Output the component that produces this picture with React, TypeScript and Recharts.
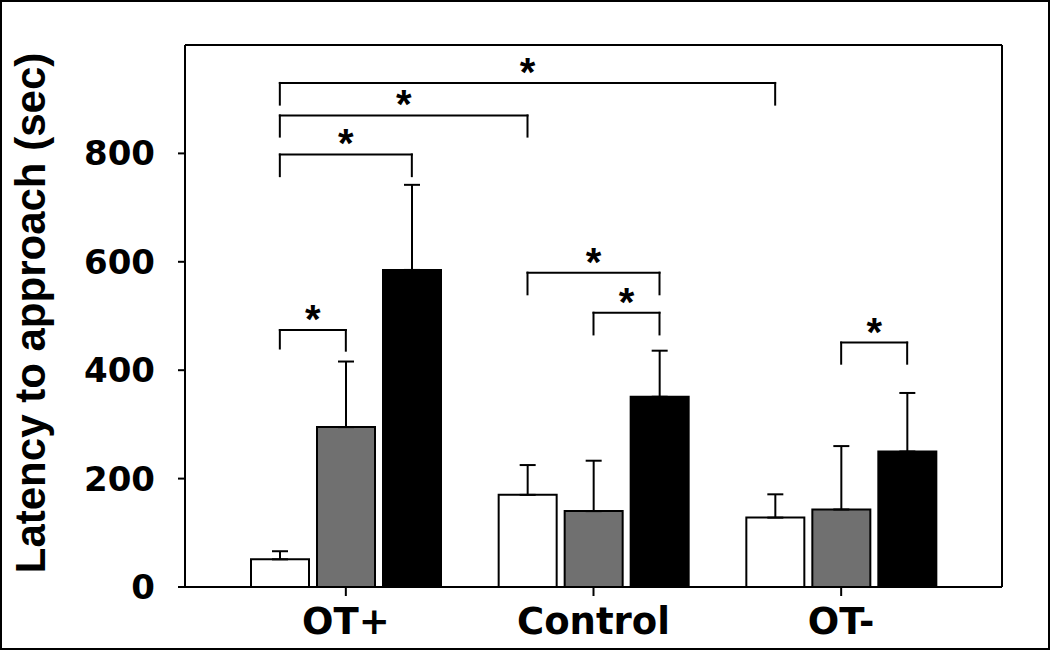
import React from "react";
import {
  ComposedChart,
  Bar,
  ErrorBar,
  XAxis,
  YAxis,
  ReferenceLine,
  ReferenceDot,
  Label,
} from "recharts";

// group means (sec) and one-sided SEM
const groups = ["OT+", "Control", "OT-"];
const whiteMeans = [51, 170, 128];
const whiteErr = [15, 55, 43];
const greyMeans = [295, 140, 143];
const greyErr = [121, 93, 117];
const blackMeans = [585, 351, 250];
const blackErr = [157, 85, 108];

const yTicks = [0, 200, 400, 600, 800];

// significance brackets: [group, bar] -> [group, bar], bracket top, leg bottoms
const brackets = [
  { from: [0, 0], to: [2, 0], top: 930, low: [890, 890] },
  { from: [0, 0], to: [1, 0], top: 870, low: [831, 831] },
  { from: [0, 0], to: [0, 2], top: 798, low: [758, 758] },
  { from: [0, 0], to: [0, 1], top: 474, low: [440, 436] },
  { from: [1, 0], to: [1, 2], top: 580, low: [540, 540] },
  { from: [1, 1], to: [1, 2], top: 506, low: [466, 466] },
  { from: [2, 1], to: [2, 2], top: 451, low: [412, 412] },
];

const data = groups.map((g, i) => ({
  group: g,
  pos: i,
  white: whiteMeans[i],
  whiteErr: [0, whiteErr[i]],
  grey: greyMeans[i],
  greyErr: [0, greyErr[i]],
  black: blackMeans[i],
  blackErr: [0, blackErr[i]],
}));

const W = 1050;
const H = 650;
const margin = { top: 44, right: 47, bottom: 0, left: 0 };
const yAxisWidth = 185;
const xAxisHeight = 63;
const catPad = 37;
const barSize = 58;
const barGap = 8;

// numeric axis lined up with the category bands, so brackets land on bar centres
const plotW = W - margin.left - margin.right - 1 - yAxisWidth;
const band = (plotW - 2 * catPad) / groups.length;
const numDomain = [-0.5 - catPad / band, groups.length - 0.5 + catPad / band];
const barStep = (barSize + barGap) / band;
const barX = ([g, b]: number[]) => g + (b - 1) * barStep;

const axisFont = { fontFamily: "DejaVu Sans", fontWeight: "bold", fill: "#000" };

function Star(props: any) {
  return (
    <text
      x={props.cx}
      y={props.cy + 3}
      textAnchor="middle"
      fontFamily="Liberation Sans, Arial"
      fontWeight="bold"
      fontSize={40}
      fill="#000"
    >
      *
    </text>
  );
}

function YLabel(props: any) {
  const vb = props.viewBox || { x: 0, y: 45, width: 185, height: 542 };
  const cx = vb.x + 45;
  const cy = vb.y + vb.height / 2 - 3;
  return (
    <text
      transform={`translate(${cx}, ${cy}) rotate(-90)`}
      textAnchor="middle"
      fontFamily="Liberation Sans, Arial"
      fontWeight="bold"
      fontSize={42}
      fill="#000"
    >
      Latency to approach (sec)
    </text>
  );
}

export default function App() {
  return (
    <div style={{ position: "relative", width: W, height: H, background: "#fff" }}>
      <style>{`body{margin:0;}`}</style>
      <ComposedChart
        width={W}
        height={H}
        data={data}
        margin={margin}
        barSize={barSize}
        barGap={barGap}
      >
        <XAxis
          xAxisId="cat"
          dataKey="group"
          height={xAxisHeight}
          padding={{ left: catPad, right: catPad }}
          tickSize={9}
          tickMargin={12}
          stroke="#000"
          strokeWidth={2}
          tick={{ ...axisFont, fontSize: 37 }}
          tickLine={{ stroke: "#000", strokeWidth: 2 }}
        />
        <XAxis
          xAxisId="num"
          dataKey="pos"
          type="number"
          orientation="top"
          domain={numDomain}
          allowDataOverflow
          height={1}
          tick={false}
          tickLine={false}
          stroke="#000"
          strokeWidth={2}
        />
        <YAxis
          yAxisId="left"
          width={yAxisWidth}
          domain={[0, 1000]}
          ticks={yTicks}
          interval={0}
          tickSize={7}
          tickMargin={23}
          stroke="#000"
          strokeWidth={2}
          tick={{ ...axisFont, fontSize: 34 }}
          tickLine={{ stroke: "#000", strokeWidth: 2 }}
        >
          <Label content={<YLabel />} />
        </YAxis>
        <YAxis
          yAxisId="right"
          orientation="right"
          width={1}
          domain={[0, 1000]}
          tick={false}
          tickLine={false}
          stroke="#000"
          strokeWidth={2}
        />

        <Bar xAxisId="cat" yAxisId="left" dataKey="white" fill="#fff" stroke="#000" strokeWidth={2} isAnimationActive={false}>
          <ErrorBar dataKey="whiteErr" direction="y" width={8} stroke="#000" strokeWidth={2} />
        </Bar>
        <Bar xAxisId="cat" yAxisId="left" dataKey="grey" fill="#707070" stroke="#000" strokeWidth={2} isAnimationActive={false}>
          <ErrorBar dataKey="greyErr" direction="y" width={8} stroke="#000" strokeWidth={2} />
        </Bar>
        <Bar xAxisId="cat" yAxisId="left" dataKey="black" fill="#000" stroke="#000" strokeWidth={2} isAnimationActive={false}>
          <ErrorBar dataKey="blackErr" direction="y" width={8} stroke="#000" strokeWidth={2} />
        </Bar>

        {brackets.map((b, i) => {
          const x1 = barX(b.from);
          const x2 = barX(b.to);
          const common = {
            xAxisId: "num",
            yAxisId: "left",
            stroke: "#000",
            strokeWidth: 2,
            strokeLinecap: "square" as const,
            ifOverflow: "visible" as const,
          };
          return (
            <React.Fragment key={i}>
              <ReferenceLine {...common} segment={[{ x: x1, y: b.low[0] }, { x: x1, y: b.top }]} />
              <ReferenceLine {...common} segment={[{ x: x1, y: b.top }, { x: x2, y: b.top }]} />
              <ReferenceLine {...common} segment={[{ x: x2, y: b.top }, { x: x2, y: b.low[1] }]} />
              <ReferenceDot
                xAxisId="num"
                yAxisId="left"
                x={(x1 + x2) / 2}
                y={b.top}
                r={0}
                ifOverflow="visible"
                shape={<Star />}
              />
            </React.Fragment>
          );
        })}
      </ComposedChart>
      <div
        style={{
          position: "absolute",
          left: 0,
          top: 0,
          width: W,
          height: H,
          boxSizing: "border-box",
          border: "2px solid #000",
          pointerEvents: "none",
        }}
      />
    </div>
  );
}
